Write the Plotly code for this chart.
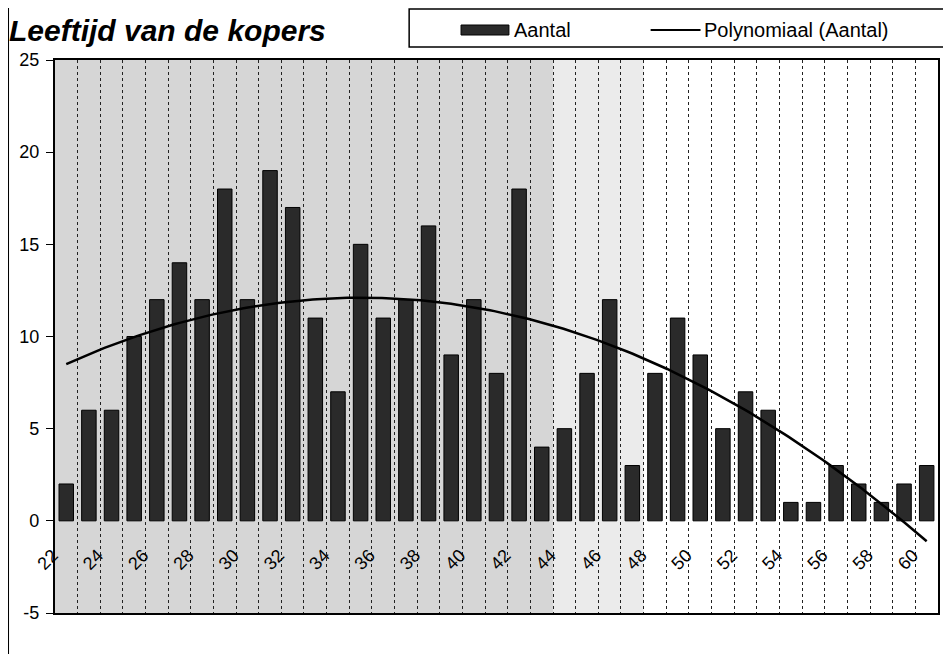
import numpy as np
import plotly.graph_objects as go

# ---- data ----
ages = list(range(22, 61))
aantal = [2, 6, 6, 10, 12, 14, 12, 18, 12, 19, 17, 11, 7, 15, 11, 12, 16, 9, 12, 8,
          18, 4, 5, 8, 12, 3, 8, 11, 9, 5, 7, 6, 1, 1, 3, 2, 1, 2, 3]
tick_ages = list(range(22, 61, 2))
tick_labels = [str(a) for a in tick_ages]
y_ticks = [-5, 0, 5, 10, 15, 20, 25]
y_tick_labels = [str(v) for v in y_ticks]

title_text = "Leeftijd van de kopers"
series_name = "Aantal"
trend_name = "Polynomiaal (Aantal)"

# polynomial (order 2) trendline of Aantal, as in the original chart
coef = np.polyfit(ages, aantal, 2)
trend_x = np.linspace(ages[0], ages[-1], 200)
trend_y = np.polyval(coef, trend_x)

FONT = "Liberation Sans, Arial, sans-serif"
# the page body adds an 8px margin; the figure is sized so the page is 951x654
OFF = 8
W, H = 951 - OFF, 654 - OFF
# plot region (page pixels): the data plot runs from PX0 to PX1, the label
# axis may reach further left, to RX0
RX0, PX0, PX1, PY0, PY1 = 20, 55, 940, 60, 613
L, R, T, B = RX0 - OFF, 951 - PX1, PY0 - OFF, 654 - PY1
RW, PH = PX1 - RX0, PY1 - PY0
dom0 = (PX0 - RX0) / RW


def px(x):
    return (x - RX0) / RW


def py(y):
    return (PY1 - y) / PH


xr = [ages[0] - 0.5, ages[-1] + 0.5]
unit = (PX1 - PX0) / (xr[1] - xr[0])          # pixels per category
label_shift = 0.6                              # slanted labels sit left of centre
xr_labels = [xr[0] - (PX0 - RX0) / unit + label_shift, xr[1] + label_shift]

fig = go.Figure()
fig.add_trace(go.Bar(x=ages, y=aantal, name=series_name, width=0.64,
                     marker=dict(color="#2a2a2a", line=dict(color="#000000", width=1)),
                     xaxis="x", yaxis="y"))
fig.add_trace(go.Scatter(x=trend_x, y=trend_y, mode="lines", name=trend_name,
                         line=dict(color="#000000", width=2.5),
                         xaxis="x", yaxis="y"))
# carrier for the category label axis (no visible marks)
fig.add_trace(go.Scatter(x=tick_ages, y=[None] * len(tick_ages), mode="markers",
                         marker=dict(opacity=0), hoverinfo="skip", showlegend=False,
                         xaxis="x3", yaxis="y"))

shapes = [
    # white plot area
    dict(type="rect", xref="paper", yref="paper", x0=dom0, x1=1, y0=0, y1=1,
         fillcolor="#ffffff", line=dict(width=0), layer="below"),
    # scanned grey texture approximation
    dict(type="rect", xref="x", yref="paper", x0=xr[0], x1=43.5, y0=0, y1=1,
         fillcolor="#d6d6d6", line=dict(width=0), layer="below"),
    dict(type="rect", xref="x", yref="paper", x0=43.5, x1=47.5, y0=0, y1=1,
         fillcolor="#ebebeb", line=dict(width=0), layer="below"),
    # outer chart frame
    dict(type="rect", xref="paper", yref="paper", x0=px(8), x1=px(948), y0=py(670), y1=py(2),
         line=dict(color="#000000", width=2), fillcolor="rgba(0,0,0,0)"),
    # legend box
    dict(type="rect", xref="paper", yref="paper", x0=px(410), x1=px(947), y0=py(47), y1=py(9),
         line=dict(color="#000000", width=1.5), fillcolor="#ffffff"),
    # legend swatch
    dict(type="rect", xref="paper", yref="paper", x0=px(462), x1=px(510), y0=py(35), y1=py(25),
         line=dict(color="#000000", width=1), fillcolor="#2a2a2a"),
    # legend line
    dict(type="line", xref="paper", yref="paper", x0=px(652), x1=px(702), y0=py(30), y1=py(30),
         line=dict(color="#000000", width=2)),
]

annotations = [
    dict(text=title_text, xref="paper", yref="paper", x=px(7), y=py(30),
         xanchor="left", yanchor="middle", showarrow=False,
         font=dict(family=FONT, size=30, color="#000000", weight="bold", style="italic")),
    dict(text=series_name, xref="paper", yref="paper", x=px(513), y=py(30),
         xanchor="left", yanchor="middle", showarrow=False,
         font=dict(family=FONT, size=20, color="#000000")),
    dict(text=trend_name, xref="paper", yref="paper", x=px(703), y=py(30),
         xanchor="left", yanchor="middle", showarrow=False,
         font=dict(family=FONT, size=20, color="#000000")),
]

fig.update_layout(
    width=W, height=H,
    margin=dict(l=L, r=R, t=T, b=B),
    paper_bgcolor="#ffffff", plot_bgcolor="rgba(0,0,0,0)",
    showlegend=False,
    font=dict(family=FONT, size=18, color="#000000"),
    # data axis: gridlines at category boundaries and the plot border
    xaxis=dict(domain=[dom0, 1], range=xr, anchor="y", side="bottom",
               tick0=xr[0], dtick=1, showticklabels=False, ticks="",
               showgrid=True, gridcolor="#222222", griddash="dot", gridwidth=1,
               showline=True, mirror=True, linecolor="#000000", linewidth=2,
               zeroline=False),
    # category label axis crossing at y = 0
    xaxis3=dict(domain=[0, 1], range=xr_labels, anchor="free", position=5 / 30,
                tickmode="array", tickvals=tick_ages, ticktext=tick_labels,
                tickangle=-45, ticks="outside", ticklen=16, tickcolor="rgba(0,0,0,0)",
                showgrid=False, showline=False, zeroline=False,
                tickfont=dict(family=FONT, size=18)),
    yaxis=dict(domain=[0, 1], anchor="x", range=[-5, 25],
               tickmode="array", tickvals=y_ticks, ticktext=y_tick_labels,
               ticks="outside", ticklen=7, tickcolor="#000000", ticklabelstandoff=3,
               showgrid=False, showline=True, mirror=True, linecolor="#000000", linewidth=2,
               zeroline=False, tickfont=dict(family=FONT, size=18)),
    shapes=shapes,
    annotations=annotations,
)

fig.write_html("out.html")
